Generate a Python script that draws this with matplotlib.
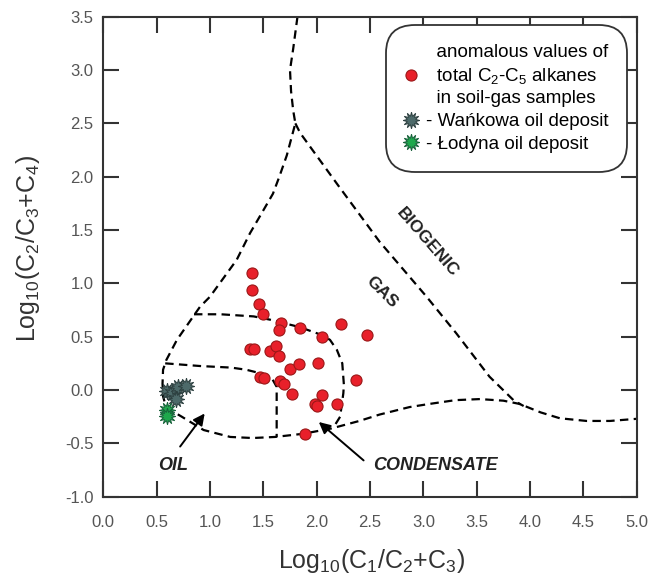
"""Genetic diagram of soil-gas alkanes (C1/C2+C3 vs C2/C3+C4)."""
import matplotlib
matplotlib.use("Agg")
import matplotlib.pyplot as plt

plt.rcParams['font.family'] = ['Liberation Sans', 'DejaVu Sans']
plt.rcParams['mathtext.default'] = 'regular'

# soil-gas samples (anomalous C2-C5)
soil_x = [1.39, 1.39, 1.46, 1.50, 1.67, 1.65, 1.84, 2.05, 2.23, 2.47,
          1.375, 1.41, 1.56, 1.62, 1.65, 1.75, 1.83, 2.01, 1.47, 1.51,
          1.66, 1.69, 1.77, 2.37, 2.05, 1.98, 2.00, 2.19, 1.89]
soil_y = [1.10, 0.94, 0.81, 0.71, 0.625, 0.56, 0.58, 0.50, 0.62, 0.52,
          0.38, 0.38, 0.37, 0.41, 0.32, 0.20, 0.24, 0.25, 0.125, 0.11,
          0.08, 0.056, -0.04, 0.09, -0.05, -0.13, -0.15, -0.13, -0.41]

# oil deposits
wank_x = [0.60, 0.64, 0.696, 0.775, 0.68]
wank_y = [-0.006, -0.03, 0.031, 0.037, -0.087]
lod_x = [0.60, 0.60]
lod_y = [-0.19, -0.245]

# field boundaries
outer_x = [1.82, 1.78, 1.75, 1.76, 1.78, 1.80, 1.76, 1.72, 1.65, 1.59, 1.48, 1.375,
           1.25, 1.0, 0.906, 0.85, 0.69, 0.59, 0.56, 0.555, 0.56, 0.58, 0.65, 0.735,
           0.94, 1.19, 1.40, 1.61, 1.875, 2.14, 2.40, 2.59, 2.87, 3.06, 3.30, 3.53,
           3.75, 3.90, 4.10, 4.28, 4.53, 4.75, 5.0]
outer_y = [3.5, 3.2, 3.0, 2.8, 2.62, 2.50, 2.35, 2.2, 2.0, 1.84, 1.65, 1.47,
           1.22, 0.875, 0.78, 0.70, 0.47, 0.28, 0.19, 0.06, -0.06, -0.13, -0.2, -0.25,
           -0.375, -0.44, -0.45, -0.44, -0.41, -0.36, -0.29, -0.23, -0.16, -0.13, -0.095, -0.085,
           -0.10, -0.13, -0.21, -0.265, -0.29, -0.29, -0.27]
bio_x = [1.80, 1.845, 2.2, 2.59, 3.03, 3.31, 3.62, 3.85, 3.94]
bio_y = [2.50, 2.41, 1.92, 1.39, 0.875, 0.53, 0.125, -0.10, -0.15]
cond_x = [0.85, 1.1, 1.41, 1.56, 1.84, 2.05, 2.125, 2.19, 2.24, 2.255, 2.25, 2.22, 2.17]
cond_y = [0.71, 0.71, 0.69, 0.66, 0.59, 0.515, 0.47, 0.375, 0.25, 0.05, -0.03, -0.25, -0.33]
oil_x = [0.58, 0.906, 1.2, 1.34, 1.50, 1.58, 1.625, 1.625]
oil_y = [0.25, 0.225, 0.21, 0.19, 0.15, 0.11, 0.03, -0.44]

fig = plt.figure(figsize=(6.64, 5.77), dpi=100)
ax = fig.add_axes([0.1556, 0.1392, 0.8033, 0.8319])

dash = dict(color='k', lw=1.6, ls=(0, (3.8, 2.4)), zorder=2)
ax.plot(outer_x, outer_y, **dash)
ax.plot(bio_x, bio_y, **dash)
ax.plot(cond_x, cond_y, **dash)
ax.plot(oil_x, oil_y, **dash)

lab1 = ("  anomalous values of\n  total C$_2$-C$_5$ alkanes\n"
        "  in soil-gas samples")
ax.plot(soil_x, soil_y, ls='none', marker='o', ms=8, mfc='#e8202a',
        mec='#9a1818', mew=0.8, zorder=4, label=lab1)
ax.plot(wank_x, wank_y, ls='none', marker=(12, 1, 0), ms=12, mfc='#4d6a6a',
        mec='#2d4040', mew=0.7, zorder=5, label='- Wańkowa oil deposit')
ax.plot(lod_x, lod_y, ls='none', marker=(12, 1, 0), ms=12, mfc='#1ea84c',
        mec='#17603a', mew=0.7, zorder=6, label='- Łodyna oil deposit')

# arrows & field names
arr = dict(arrowstyle='-|>', color='k', lw=1.4, mutation_scale=17,
           shrinkA=0, shrinkB=0)
ax.annotate('', xy=(0.95, -0.22), xytext=(0.72, -0.53), arrowprops=arr)
ax.annotate('', xy=(2.02, -0.30), xytext=(2.44, -0.66), arrowprops=arr)
ax.text(0.65, -0.71, 'OIL', fontsize=13, fontweight='bold', style='italic',
        ha='center', va='center', color='#222')
ax.text(3.11, -0.71, 'CONDENSATE', fontsize=13, fontweight='bold', style='italic',
        ha='center', va='center', color='#222')
ax.text(3.04, 1.38, 'BIOGENIC', fontsize=12.5, fontweight='bold', rotation=-49,
        ha='center', va='center', color='#222', rotation_mode='anchor')
ax.text(2.61, 0.92, 'GAS', fontsize=12.5, fontweight='bold', rotation=-45,
        ha='center', va='center', color='#222', rotation_mode='anchor')

ax.set_xlim(0, 5)
ax.set_ylim(-1, 3.5)
ax.set_xticks([0, 0.5, 1, 1.5, 2, 2.5, 3, 3.5, 4, 4.5, 5])
ax.set_yticks([-1, -0.5, 0, 0.5, 1, 1.5, 2, 2.5, 3, 3.5])
ax.xaxis.set_major_formatter(matplotlib.ticker.FormatStrFormatter('%.1f'))
ax.yaxis.set_major_formatter(matplotlib.ticker.FormatStrFormatter('%.1f'))
ax.tick_params(direction='in', length=11.5, width=1.5, color='#333',
               top=True, right=True, labelsize=12, labelcolor='#555')
ax.tick_params(axis='x', pad=13)
ax.tick_params(axis='y', pad=7)
for s in ax.spines.values():
    s.set_linewidth(1.5)
    s.set_color('#333')

ax.set_xlabel('Log$_{10}$(C$_1$/C$_2$+C$_3$)', fontsize=18, color='#333')
ax.set_ylabel('Log$_{10}$(C$_2$/C$_3$+C$_4$)', fontsize=18, color='#333')
ax.xaxis.set_label_coords(0.502, -0.105)
ax.yaxis.set_label_coords(-0.115, 0.517)

leg = ax.legend(loc='upper right', bbox_to_anchor=(0.982, 0.983), fontsize=13.5,
                borderaxespad=0, borderpad=1.0, handlelength=0.6,
                handletextpad=0.5, labelspacing=0.3, fancybox=True,
                framealpha=1, edgecolor='#333')
leg.get_frame().set_boxstyle('round,pad=0,rounding_size=1.5')
leg.get_frame().set_linewidth(1.3)
for t in leg.get_texts():
    t.set_linespacing(1.35)

fig.savefig('out.png', dpi=100)
